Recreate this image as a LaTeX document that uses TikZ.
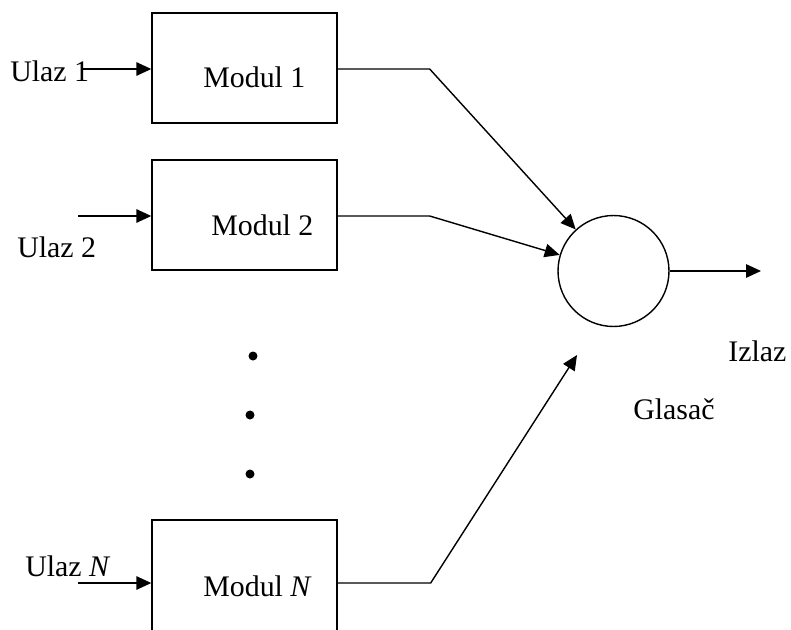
\documentclass[tikz,border=0pt]{standalone}
\usepackage{fontspec}
\setmainfont{Liberation Serif}
\usetikzlibrary{arrows.meta}

\tikzset{
  modbox/.style={draw, line width=0.8pt, minimum width=3.7cm, minimum height=2.2cm, inner sep=0pt},
  glasac/.style={draw, circle, line width=0.8pt, minimum size=2.22cm, inner sep=0pt},
  txt/.style={anchor=base west, inner sep=0pt, font=\fontsize{17}{20}\selectfont},
  arr/.style={line width=0.8pt, -{Triangle[length=0.3cm, width=0.27cm]}},
  ln/.style={line width=0.8pt}
}

\begin{document}
\begin{tikzpicture}[x=0.02cm, y=-0.02cm]
      \useasboundingbox (0,0) rectangle (791,629);

      % moduli
      \node[modbox] (mod1) at (244.5,68) {};
      \node[modbox] (mod2) at (244.5,215) {};
      \node[modbox, minimum height=2.3cm] (modN) at (244.5,577.5) {};
      \node[txt] (t1) at (203,87) {Modul 1};
      \node[txt] (t2) at (211,235) {Modul 2};
      \node[txt] (tN) at (203,596) {Modul \textit{N}};

      % glasac
      \node[glasac] (glas) at (613.5,271) {};

      % ulazi
      \coordinate (u1) at (82,69);
      \coordinate (u2) at (78,216);
      \coordinate (uN) at (78,583);
      \draw[arr] (u1) -- (mod1.west |- u1);
      \draw[arr] (u2) -- (mod2.west |- u2);
      \draw[arr] (uN) -- (modN.west |- uN);
      \node[txt] (lu1) at (10,81) {Ulaz 1};
      \node[txt] (lu2) at (17,257) {Ulaz 2};
      \node[txt] (luN) at (25,576) {Ulaz \textit{N}};

      % izlazi modula
      \draw[arr] (mod1.east |- u1) -- ++(92,0) -- (glas);
      \draw[arr] (mod2.east |- u2) -- ++(92,0) -- (glas);
      \coordinate (kN) at (577,355);
      \draw[arr] (modN.east |- uN) -- ++(93,0) -- (kN);

      % izlaz
      \coordinate (izl) at (761,271);
      \draw[arr] (glas.east) -- (izl);
      \node[txt] (lizl) at (728,361) {Izlaz};
      \node[txt] (lgl) at (633,419) {Glasač};

      % tackice
      \fill (253,356) circle (0.09cm);
      \fill (250,415) circle (0.09cm);
      \fill (250,474) circle (0.09cm);
\end{tikzpicture}
\end{document}
